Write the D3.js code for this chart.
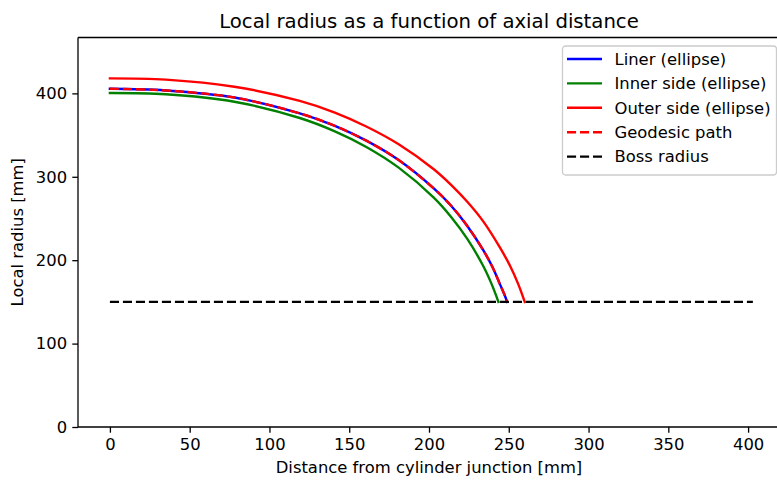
<!DOCTYPE html>
<html>
<head>
<meta charset="utf-8">
<script src="https://cdn.jsdelivr.net/npm/d3@7"></script>
<style>
  html, body { margin: 0; padding: 0; background: #fff; }
  svg { display: block; font-family: "DejaVu Sans", sans-serif; }
</style>
</head>
<body>
<svg id="chart" width="777" height="480"></svg>
<script>
// Dome contour profiles: axial distance [mm] vs local radius [mm]
const linerX    = [0, 35, 78, 119, 141, 161, 181, 203, 214, 224, 234, 240, 244.5, 247, 249];
const linerR    = [405.5, 403.5, 395, 376, 361, 343, 320, 286, 265, 241, 212, 191, 171, 160, 150];

const innerX    = [0, 35, 78, 119, 141, 161, 181, 203, 214, 224, 234, 239, 241.5, 243.5];
const innerR    = [400.5, 399, 390, 370.5, 354.5, 335.5, 311, 275, 251.5, 225.5, 193, 172.5, 160.5, 150];

const outerX    = [0, 35, 78, 119, 141, 161, 181, 203, 214, 224, 234, 244.5, 251, 256, 260];
const outerR    = [418, 416.5, 408, 391, 377, 360, 339, 309, 290, 270, 246.5, 215, 192.5, 171, 150];

const geodesicX = [0, 35, 78, 119, 141, 161, 181, 203, 214, 224, 234, 240, 244.5, 247, 249];
const geodesicR = [405.5, 403.5, 395, 376, 361, 343, 320, 286, 265, 241, 212, 191, 171, 160, 150];

const bossX     = [0, 403];
const bossR     = [150, 150];

const xTicks = [0, 50, 100, 150, 200, 250, 300, 350, 400];
const yTicks = [0, 100, 200, 300, 400];

const seriesNames = ["Liner (ellipse)", "Inner side (ellipse)", "Outer side (ellipse)", "Geodesic path", "Boss radius"];

const DASH = "9.1,3.9";
const series = [
  { name: seriesNames[0], xs: linerX, ys: linerR, color: "#0000ff", dash: null },
  { name: seriesNames[1], xs: innerX, ys: innerR, color: "#008000", dash: null },
  { name: seriesNames[2], xs: outerX, ys: outerR, color: "#ff0000", dash: null },
  { name: seriesNames[3], xs: geodesicX, ys: geodesicR, color: "#ff0000", dash: DASH },
  { name: seriesNames[4], xs: bossX, ys: bossR, color: "#000000", dash: DASH }
];

const svg = d3.select("#chart");
const plot = { left: 78, right: 780, top: 37.5, bottom: 427 };

const x = d3.scaleLinear().domain([-20, 420]).range([plot.left, plot.right]);
const y = d3.scaleLinear().domain([0, 467]).range([plot.bottom, plot.top]);

const LW = 2.4;      // data line width
const AXW = 1.3;     // spine / tick width
const FS = 16.4;     // tick, label and legend font size

// Curves
const smooth = d3.line().x(d => x(d[0])).y(d => y(d[1])).curve(d3.curveCatmullRom.alpha(0.5));
const straight = d3.line().x(d => x(d[0])).y(d => y(d[1]));

const g = svg.append("g");
series.forEach(s => {
  const pts = s.xs.map((v, i) => [v, s.ys[i]]);
  g.append("path")
    .datum(pts)
    .attr("d", pts.length > 2 ? smooth : straight)
    .attr("fill", "none")
    .attr("stroke", s.color)
    .attr("stroke-width", LW)
    .attr("stroke-dasharray", s.dash)
    .attr("stroke-linecap", s.dash ? "butt" : "square")
    .attr("stroke-linejoin", "round");
});

// Axes
const xAxis = d3.axisBottom(x).tickValues(xTicks).tickSize(5.7).tickPadding(5.2);
const yAxis = d3.axisLeft(y).tickValues(yTicks).tickSize(5.7).tickPadding(5.2);

const gx = svg.append("g").attr("transform", `translate(0,${plot.bottom})`).call(xAxis);
const gy = svg.append("g").attr("transform", `translate(${plot.left},0)`).call(yAxis);

[gx, gy].forEach(a => {
  a.select(".domain").remove();
  a.selectAll(".tick line").attr("stroke", "#000").attr("stroke-width", AXW);
  a.selectAll(".tick text")
    .attr("fill", "#000")
    .style("font-size", FS + "px")
    .style("font-family", "DejaVu Sans");
});

// Spines (right spine falls just past the canvas edge)
const spines = svg.append("g").attr("fill", "none").attr("stroke", "#000").attr("stroke-width", AXW);
spines.append("line").attr("x1", plot.left).attr("x2", plot.right).attr("y1", plot.bottom).attr("y2", plot.bottom);
spines.append("line").attr("x1", plot.left).attr("x2", plot.right).attr("y1", plot.top).attr("y2", plot.top);
spines.append("line").attr("x1", plot.left).attr("x2", plot.left).attr("y1", plot.top).attr("y2", plot.bottom);
spines.append("line").attr("x1", plot.right).attr("x2", plot.right).attr("y1", plot.top).attr("y2", plot.bottom);

// Title and axis labels
svg.append("text")
  .attr("x", (plot.left + plot.right) / 2)
  .attr("y", 28)
  .attr("text-anchor", "middle")
  .attr("fill", "#000")
  .style("font-size", "19.7px")
  .text("Local radius as a function of axial distance");

svg.append("text")
  .attr("x", (plot.left + plot.right) / 2)
  .attr("y", 473)
  .attr("text-anchor", "middle")
  .attr("fill", "#000")
  .style("font-size", FS + "px")
  .text("Distance from cylinder junction [mm]");

svg.append("text")
  .attr("transform", `translate(23,${(plot.top + plot.bottom) / 2}) rotate(-90)`)
  .attr("text-anchor", "middle")
  .attr("fill", "#000")
  .style("font-size", FS + "px")
  .text("Local radius [mm]");

// Legend
const legend = svg.append("g").attr("transform", "translate(562.5,46)");
legend.append("rect")
  .attr("width", 214).attr("height", 129)
  .attr("rx", 3).attr("ry", 3)
  .attr("fill", "#fff").attr("fill-opacity", 0.8)
  .attr("stroke", "#cccccc").attr("stroke-width", AXW);

series.forEach((s, i) => {
  const yy = 13 + i * 24.4;
  legend.append("line")
    .attr("x1", 4.5).attr("x2", 39.5)
    .attr("y1", yy).attr("y2", yy)
    .attr("stroke", s.color)
    .attr("stroke-width", LW)
    .attr("stroke-dasharray", s.dash);
  legend.append("text")
    .attr("x", 52)
    .attr("y", yy)
    .attr("dy", "0.35em")
    .attr("fill", "#000")
    .style("font-size", FS + "px")
    .text(s.name);
});
</script>
</body>
</html>
